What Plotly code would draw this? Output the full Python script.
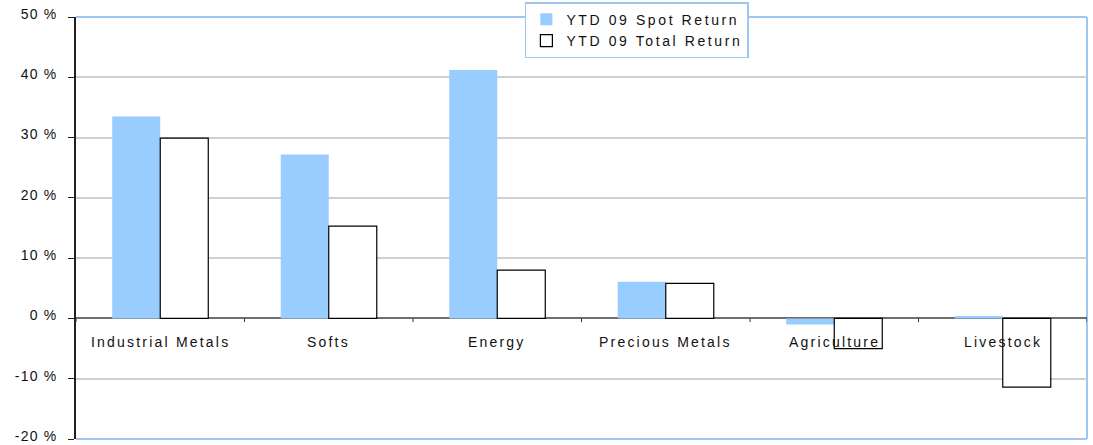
import plotly.graph_objects as go

categories = ["Industrial Metals", "Softs", "Energy", "Precious Metals", "Agriculture", "Livestock"]
spot_return = [33.5, 27.2, 41.2, 6.1, -1.0, 0.4]
total_return = [29.9, 15.3, 8.0, 5.8, -5.0, -11.4]
y_ticks = [-20, -10, 0, 10, 20, 30, 40, 50]
y_tick_labels = ["-20 %", "-10 %", "0 %", "10 %", "20 %", "30 %", "40 %", "50 %"]
series_names = ["YTD 09 Spot Return", "YTD 09 Total Return"]

FONT = "Liberation Sans, Arial, sans-serif"
BORDER = "#9EC6EE"


def spaced(t, px):
    return '<span style="letter-spacing:%spx">%s</span>' % (px, t)


fig = go.Figure()
fig.add_trace(go.Bar(
    x=categories, y=spot_return, name=spaced(series_names[0], 2.6),
    marker=dict(color="#99CCFF", line=dict(width=0)),
))
fig.add_trace(go.Bar(
    x=categories, y=total_return, name=spaced(series_names[1], 2.6),
    marker=dict(color="white", line=dict(color="black", width=1.2)),
))

# category labels just below the zero line
for c in categories:
    fig.add_annotation(x=c, y=0, xref="x", yref="y", text=spaced(c, 2.2), showarrow=False,
                       yanchor="top", yshift=-14,
                       font=dict(family=FONT, size=14, color="#111"))

# small ticks on the zero line at category boundaries
for i in range(len(categories) + 1):
    fig.add_shape(type="line", xref="x", yref="y", x0=i - 0.5, x1=i - 0.5,
                  y0=0, y1=-0.6, line=dict(color="#333", width=1))

# light blue border (top, right, bottom)
for (x0, y0, x1, y1) in [(0, 1, 1, 1), (1, 0, 1, 1), (0, 0, 1, 0)]:
    fig.add_shape(type="line", xref="paper", yref="paper", x0=x0, y0=y0, x1=x1, y1=y1,
                  line=dict(color=BORDER, width=2), layer="below")

fig.update_layout(
    width=1093, height=445,
    margin=dict(l=76, r=6, t=17, b=6, autoexpand=False),
    paper_bgcolor="white", plot_bgcolor="white",
    barmode="group", bargap=0.43, bargroupgap=0,
    font=dict(family=FONT, size=14, color="#111"),
    showlegend=True,
    legend=dict(
        x=0.444, y=1.035, xanchor="left", yanchor="top",
        bgcolor="white", bordercolor=BORDER, borderwidth=1.5,
        font=dict(family=FONT, size=14, color="#111"),
        tracegroupgap=0, itemwidth=30,
    ),
    xaxis=dict(showticklabels=False, showgrid=False, ticks="", showline=False,
               range=[-0.5, len(categories) - 0.5], automargin=False),
    yaxis=dict(range=[-20, 50], tickvals=y_ticks,
               ticktext=[spaced(t, 1.2) for t in y_tick_labels],
               automargin=False, ticklabeloverflow="allow",
               ticklabelshift=-3, ticklabelstandoff=8,
               showgrid=True, gridcolor="#CFCFCF", gridwidth=1.5,
               zeroline=True, zerolinecolor="#6E6E6E", zerolinewidth=2,
               showline=True, linecolor="#222", linewidth=1.5,
               ticks="outside", ticklen=6, tickcolor="#222",
               tickfont=dict(family=FONT, size=14, color="#111")),
)

fig.write_html("out.html")
